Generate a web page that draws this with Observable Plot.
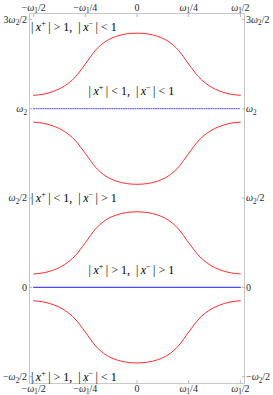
<!DOCTYPE html>
<html><head><meta charset="utf-8">
<script src="https://cdn.jsdelivr.net/npm/d3@7"></script>
<script src="https://cdn.jsdelivr.net/npm/@observablehq/plot@0.6"></script>
<style>
  html,body{margin:0;padding:0;background:#fff}
  #chart svg{display:block}
  #chart svg text{font-family:'Liberation Serif','Times New Roman',serif}
</style>
</head><body><div id="chart"></div>
<script>
// x positions (in units of ω1) and the four red curves (in units of ω2)
const xs = [-0.5,-0.45,-0.4,-0.35,-0.3,-0.25,-0.2,-0.15,-0.1,-0.05,0,0.05,0.1,0.15,0.2,0.25,0.3,0.35,0.4,0.45,0.5];
const curveTop = [1.075,1.082,1.099,1.128,1.176,1.25,1.328,1.378,1.405,1.419,1.423,1.419,1.405,1.378,1.328,1.25,1.176,1.128,1.099,1.082,1.075];
const curveUpperMid = [0.925,0.918,0.901,0.872,0.824,0.75,0.672,0.622,0.595,0.581,0.577,0.581,0.595,0.622,0.672,0.75,0.824,0.872,0.901,0.918,0.925];
const curveLowerMid = [0.075,0.082,0.099,0.128,0.176,0.25,0.328,0.378,0.405,0.419,0.423,0.419,0.405,0.378,0.328,0.25,0.176,0.128,0.099,0.082,0.075];
const curveBottom = [-0.075,-0.082,-0.099,-0.128,-0.176,-0.25,-0.328,-0.378,-0.405,-0.419,-0.423,-0.419,-0.405,-0.378,-0.328,-0.25,-0.176,-0.128,-0.099,-0.082,-0.075];

// blue horizontal lines: solid at 0, dotted at ω2
const blueLevels = [0, 1];
const blueKinds = ["solid", "dotted"];

// axis ticks
const xTicks = [-0.5, -0.25, 0, 0.25, 0.5];
const xTickLabels = ["−ω₁/2", "−ω₁/4", "0", "ω₁/4", "ω₁/2"];
const yTicks = [-0.5, 0, 0.5, 1, 1.5];
const yTickLabels = ["−ω₂/2", "0", "ω₂/2", "ω₂", "3ω₂/2"];

// region labels
const regionLabels = ["|\u2009x⁺\u2009| > 1,  |\u2009x⁻\u2009| < 1", "|\u2009x⁺\u2009| < 1,  |\u2009x⁻\u2009| < 1", "|\u2009x⁺\u2009| < 1,  |\u2009x⁻\u2009| > 1", "|\u2009x⁺\u2009| > 1,  |\u2009x⁻\u2009| > 1", "|\u2009x⁺\u2009| > 1,  |\u2009x⁻\u2009| < 1"];
const regionLabelX = [-0.52, -0.027, -0.52, -0.027, -0.52];
const regionLabelY = [1.456, 1.099, 0.5, 0.098, -0.5];

const xDomain = [-0.52, 0.52];
const yDomain = [-0.538, 1.533];

const curves = [curveTop, curveUpperMid, curveLowerMid, curveBottom];
const curveRows = curves.flatMap((ys, c) => ys.map((y, i) => ({x: xs[i], y, c})));
const blueRows = blueLevels.flatMap((y, k) => [{x: xs[0], y, k: blueKinds[k]}, {x: xs[xs.length - 1], y, k: blueKinds[k]}]);
const labelRows = regionLabels.map((t, i) => ({t, x: regionLabelX[i], y: regionLabelY[i]}));
const atLeft = d => d.x <= xDomain[0];

const xFmt = new Map(xTicks.map((v, i) => [v, xTickLabels[i]]));
const yFmt = new Map(yTicks.map((v, i) => [v, yTickLabels[i]]));

const serif = "'Liberation Serif','Times New Roman',serif";
const axisOpts = {tickSize: -3, stroke: "#b5b5b5", fill: "#2a2a2a", fontFamily: serif};

const chart = Plot.plot({
  width: 273, height: 395,
  marginLeft: 29, marginRight: 29, marginTop: 13, marginBottom: 12,
  style: {fontFamily: serif, fontSize: "10px", color: "#333", background: "#fff"},
  x: {domain: xDomain, label: null},
  y: {domain: yDomain, label: null},
  marks: [
    Plot.frame({stroke: "#c8c8c8"}),
    Plot.axisX(xTicks, {anchor: "top", tickFormat: d => xFmt.get(d), tickPadding: 6, ...axisOpts}),
    Plot.axisX(xTicks, {anchor: "bottom", tickFormat: d => xFmt.get(d), tickPadding: 4, ...axisOpts}),
    Plot.axisY(yTicks, {anchor: "left", tickFormat: d => yFmt.get(d), tickPadding: 5.5, ...axisOpts}),
    Plot.axisY(yTicks, {anchor: "right", tickFormat: d => yFmt.get(d), tickPadding: 4.5, ...axisOpts}),
    Plot.line(blueRows.filter(d => d.k === "solid"), {x: "x", y: "y", z: "y", stroke: "#4a4aff", strokeWidth: 1.2}),
    Plot.line(blueRows.filter(d => d.k === "dotted"), {x: "x", y: "y", z: "y", stroke: "#4545ff", strokeWidth: 1, strokeDasharray: "1,1.3"}),
    Plot.line(curveRows, {x: "x", y: "y", z: "c", stroke: "#ff2a2a", strokeWidth: 1, curve: "monotone-x"}),
    Plot.text(labelRows.filter(atLeft), {x: "x", y: "y", text: "t", dx: 1.5, textAnchor: "start", fontSize: 12, fill: "#000", fontFamily: serif}),
    Plot.text(labelRows.filter(d => !atLeft(d)), {x: "x", y: "y", text: "t", textAnchor: "middle", fontSize: 12, fill: "#000", fontFamily: serif})
  ]
});
document.getElementById("chart").append(chart);

// render italic letters, subscripts and superscripts as tspans
const NS = "http://www.w3.org/2000/svg";
function classify(ch) {
  if (ch === "ω" || ch === "x") return ["i", ch];
  if (ch === "₁") return ["sub", "1"];
  if (ch === "₂") return ["sub", "2"];
  if (ch === "⁺") return ["sup", "+"];
  if (ch === "⁻") return ["sup", "−"];
  return ["n", ch];
}
chart.querySelectorAll("text").forEach(el => {
  const s = el.textContent;
  if (!/[ωx⁺⁻₁₂]/.test(s)) return;
  const fs = parseFloat(getComputedStyle(el).fontSize) || 10;
  const groups = [];
  for (const ch of s) {
    const [k, t] = classify(ch);
    if (groups.length && groups[groups.length - 1].k === k) groups[groups.length - 1].t += t;
    else groups.push({k, t});
  }
  el.textContent = "";
  let cur = 0;
  for (const g of groups) {
    const ts = document.createElementNS(NS, "tspan");
    let target = 0;
    if (g.k === "i") ts.setAttribute("font-style", "italic");
    if (g.k === "sub") { target = 0.28 * fs; ts.setAttribute("font-size", (0.72 * fs) + "px"); }
    if (g.k === "sup") { target = -0.42 * fs; ts.setAttribute("font-size", (0.68 * fs) + "px"); }
    if (target !== cur) { ts.setAttribute("dy", (target - cur) + "px"); cur = target; }
    ts.textContent = g.t;
    el.appendChild(ts);
  }
});
</script>
</body></html>
